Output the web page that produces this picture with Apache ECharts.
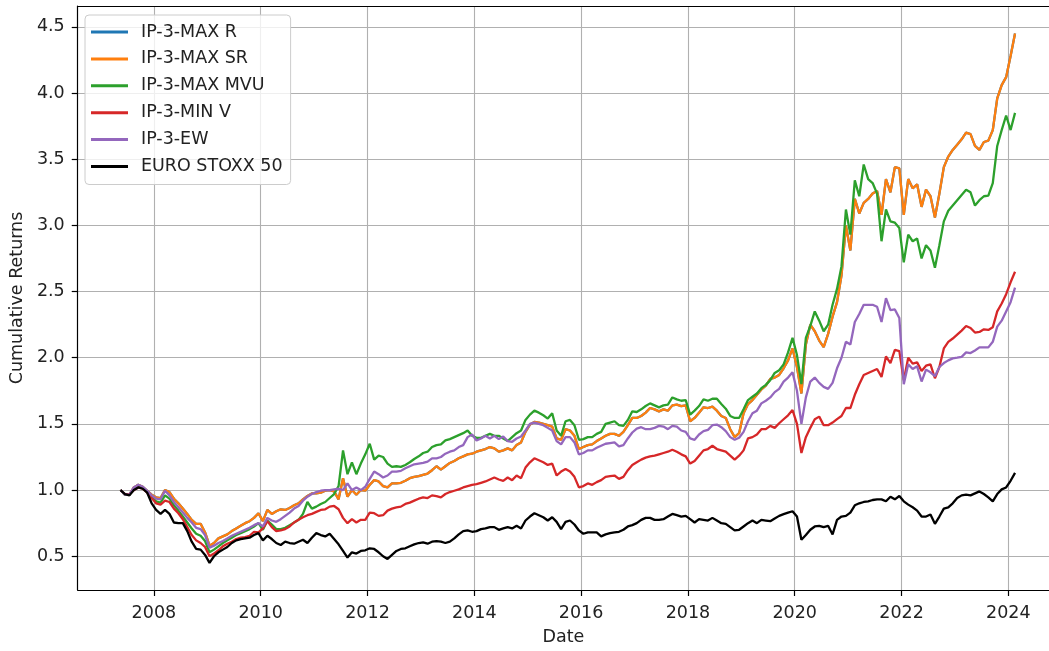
<!DOCTYPE html>
<html>
<head>
<meta charset="utf-8">
<script src="https://cdn.jsdelivr.net/npm/echarts@6/dist/echarts.min.js"></script>
<style>
  html, body { margin: 0; padding: 0; background: #ffffff; }
  #chart { width: 1049px; height: 651px; }
</style>
</head>
<body>
<div id="chart"></div>
<script>
// Monthly observations, first one in May 2007, last one in February 2024.
const startYear = 2007;
const startMonth = 5;

const seriesNames = ['IP-3-MAX R', 'IP-3-MAX SR', 'IP-3-MAX MVU', 'IP-3-MIN V', 'IP-3-EW', 'EURO STOXX 50'];

const maxSR = [
  1.0, 0.965, 0.965, 1.02, 1.04, 1.025, 0.995, 0.965, 0.945, 0.94,
  1.0, 0.985, 0.935, 0.90, 0.86, 0.82, 0.775, 0.745, 0.745, 0.68,
  0.58, 0.60, 0.635, 0.65, 0.665, 0.69, 0.71, 0.73, 0.75, 0.765,
  0.79, 0.825, 0.765, 0.85, 0.82, 0.84, 0.855, 0.85, 0.865, 0.885,
  0.90, 0.93, 0.955, 0.975, 0.975, 0.98, 0.995, 1.0, 0.99, 0.93,
  1.09, 0.95, 1.0, 0.965, 1.0, 0.995, 1.04, 1.075, 1.065, 1.03,
  1.02, 1.05, 1.05, 1.055, 1.07, 1.09, 1.10, 1.105, 1.115, 1.125,
  1.15,
  1.18, 1.155, 1.18, 1.205, 1.22, 1.24, 1.255, 1.27, 1.275,
  1.29, 1.30, 1.31, 1.325, 1.315, 1.29, 1.30, 1.315, 1.30, 1.34,
  1.36, 1.44, 1.495, 1.515, 1.51, 1.50, 1.49, 1.48, 1.39, 1.38,
  1.46, 1.45, 1.41, 1.31, 1.325, 1.34, 1.345, 1.37, 1.39, 1.41,
  1.425, 1.425, 1.41, 1.44, 1.49, 1.545, 1.545, 1.56, 1.585, 1.62,
  1.61, 1.595, 1.61, 1.60, 1.64, 1.645, 1.635, 1.64, 1.52, 1.545,
  1.585, 1.625, 1.62, 1.63, 1.60, 1.56, 1.545, 1.46, 1.40, 1.43,
  1.58, 1.65,
  1.68, 1.72, 1.76, 1.79, 1.84, 1.85, 1.87, 1.92,
  1.98, 2.07, 1.93, 1.73, 2.10, 2.25, 2.20, 2.13, 2.08, 2.18,
  2.31, 2.42, 2.62, 3.0, 2.81, 3.20, 3.09, 3.17, 3.20, 3.24,
  3.26, 3.08, 3.35, 3.25, 3.44, 3.43, 3.08, 3.35, 3.28, 3.31,
  3.14, 3.27, 3.22, 3.06, 3.24, 3.44, 3.52, 3.57, 3.61, 3.65,
  3.70, 3.69, 3.60, 3.57, 3.63, 3.64, 3.72, 3.96, 4.06, 4.12,
  4.28, 4.45
];

// IP-3-MAX R runs on the same path as IP-3-MAX SR (drawn underneath it).
const maxR = maxSR;

const maxMVU = [
  1.0, 0.965, 0.965, 1.01, 1.03, 1.02, 0.99, 0.95, 0.915, 0.905,
  0.96, 0.935, 0.885, 0.845, 0.80, 0.755, 0.71, 0.67, 0.655, 0.615,
  0.53, 0.55, 0.575, 0.60, 0.62, 0.64, 0.66, 0.675, 0.69, 0.705,
  0.725, 0.75, 0.70, 0.77, 0.74, 0.705, 0.705, 0.715, 0.735, 0.755,
  0.775, 0.82, 0.91, 0.86, 0.875, 0.895, 0.91, 0.94, 0.97, 1.03,
  1.30, 1.12, 1.21, 1.12, 1.20, 1.27, 1.35, 1.23, 1.26, 1.25,
  1.20, 1.175, 1.18, 1.175, 1.19, 1.21, 1.235, 1.255, 1.28, 1.29,
  1.325,
  1.34, 1.345, 1.375, 1.385, 1.40, 1.415, 1.43, 1.45, 1.41,
  1.395, 1.395, 1.41, 1.425, 1.41, 1.41, 1.39, 1.37, 1.40, 1.43,
  1.45, 1.53, 1.57, 1.60, 1.585, 1.565, 1.54, 1.58, 1.45, 1.41,
  1.52, 1.53, 1.49, 1.38, 1.385, 1.40, 1.40, 1.425, 1.44, 1.50,
  1.51, 1.52, 1.49, 1.485, 1.53, 1.595, 1.59, 1.61, 1.635, 1.655,
  1.64, 1.625, 1.64, 1.645, 1.70, 1.685, 1.675, 1.68, 1.57, 1.60,
  1.635, 1.685, 1.675, 1.69, 1.69, 1.65, 1.615, 1.56, 1.545, 1.545,
  1.61, 1.68,
  1.705, 1.73, 1.77, 1.795, 1.83, 1.885, 1.905, 1.95,
  2.04, 2.15, 2.02, 1.80, 2.15, 2.24, 2.35, 2.28, 2.20, 2.25,
  2.40, 2.52, 2.69, 3.12, 2.93, 3.34, 3.22, 3.46, 3.35, 3.32,
  3.24, 2.88, 3.12, 3.03, 3.02, 2.98, 2.72, 2.93, 2.88, 2.90,
  2.75, 2.85, 2.81, 2.68, 2.85, 3.03, 3.11, 3.15, 3.19, 3.23,
  3.27, 3.25, 3.15, 3.19, 3.22, 3.225, 3.32, 3.60, 3.72, 3.83,
  3.72, 3.85
];

const minV = [
  1.0, 0.97, 0.97, 1.0, 1.02, 1.01, 0.98, 0.94, 0.90, 0.89,
  0.92, 0.91, 0.86, 0.825, 0.78, 0.72, 0.66, 0.62, 0.60, 0.57,
  0.50, 0.52, 0.545, 0.575, 0.595, 0.61, 0.63, 0.64, 0.645, 0.655,
  0.685, 0.68, 0.71, 0.765, 0.72, 0.69, 0.695, 0.705, 0.725, 0.755,
  0.775, 0.795, 0.81, 0.82, 0.835, 0.85, 0.855, 0.875, 0.88, 0.855,
  0.79, 0.75, 0.78, 0.755, 0.775, 0.775, 0.83, 0.825, 0.805, 0.81,
  0.845, 0.86, 0.87, 0.875, 0.895, 0.905, 0.92, 0.935, 0.945, 0.94,
  0.96,
  0.955, 0.945, 0.97, 0.985, 0.995, 1.005, 1.02, 1.03, 1.04,
  1.045, 1.055, 1.065, 1.08, 1.095, 1.08, 1.07, 1.095, 1.075, 1.11,
  1.09, 1.17, 1.21, 1.24, 1.225, 1.21, 1.19, 1.20, 1.11, 1.14,
  1.16, 1.14, 1.10, 1.02, 1.03, 1.05, 1.04, 1.06, 1.075, 1.10,
  1.105, 1.11, 1.085, 1.10, 1.15, 1.19, 1.21, 1.23, 1.245, 1.255,
  1.26, 1.27, 1.28, 1.29, 1.305, 1.29, 1.27, 1.255, 1.20, 1.22,
  1.26, 1.30, 1.31, 1.335, 1.31, 1.30, 1.29, 1.26, 1.23, 1.26,
  1.30, 1.39,
  1.40, 1.42, 1.46, 1.46, 1.485, 1.47, 1.505, 1.535,
  1.565, 1.605, 1.50, 1.28, 1.40, 1.47, 1.535, 1.555, 1.49, 1.49,
  1.51, 1.536, 1.56, 1.62, 1.62, 1.72, 1.80, 1.87, 1.885, 1.90,
  1.915, 1.855, 2.01, 1.96, 2.06, 2.05, 1.83, 2.00, 1.955, 1.965,
  1.90, 1.94, 1.95, 1.845, 1.93, 2.07, 2.12, 2.145, 2.175, 2.205,
  2.24, 2.225, 2.19, 2.195, 2.215, 2.21, 2.23, 2.35, 2.41, 2.48,
  2.57, 2.65
];

const equalWeight = [
  1.0, 0.965, 0.965, 1.02, 1.04, 1.025, 0.995, 0.96, 0.935, 0.93,
  0.995, 0.96, 0.91, 0.87, 0.83, 0.79, 0.755, 0.715, 0.705, 0.66,
  0.565, 0.58, 0.60, 0.615, 0.635, 0.655, 0.67, 0.685, 0.70, 0.715,
  0.735, 0.75, 0.725, 0.79, 0.77, 0.76, 0.78, 0.805, 0.83, 0.86,
  0.88, 0.92, 0.95, 0.97, 0.985, 0.995, 1.0, 1.0, 1.005, 1.01,
  1.0, 1.05, 1.0, 1.02, 1.0, 1.025, 1.085, 1.14, 1.12, 1.095,
  1.11, 1.14, 1.14, 1.145, 1.165, 1.18, 1.195, 1.20, 1.205, 1.215,
  1.24,
  1.24, 1.25, 1.275, 1.29, 1.30, 1.325, 1.34, 1.40, 1.42,
  1.375, 1.39, 1.41, 1.39, 1.41, 1.385, 1.405, 1.37, 1.365, 1.39,
  1.405, 1.45, 1.50, 1.51, 1.50, 1.49, 1.47, 1.45, 1.37, 1.345,
  1.40, 1.40, 1.36, 1.27, 1.28, 1.30, 1.30, 1.32, 1.335, 1.35,
  1.355, 1.36, 1.33, 1.34, 1.39, 1.435, 1.465, 1.475, 1.46, 1.46,
  1.47, 1.485, 1.48, 1.46, 1.485, 1.48, 1.45, 1.44, 1.39, 1.38,
  1.42, 1.445, 1.455, 1.49, 1.495, 1.475, 1.445, 1.40, 1.38, 1.395,
  1.44, 1.52,
  1.58, 1.60, 1.655, 1.675, 1.70, 1.74, 1.765, 1.82,
  1.85, 1.89, 1.75, 1.50, 1.70, 1.82, 1.85, 1.81, 1.78, 1.765,
  1.81, 1.92, 2.0, 2.12, 2.10, 2.27, 2.33, 2.40, 2.40, 2.40,
  2.385, 2.27, 2.45, 2.36, 2.365, 2.30, 1.80, 1.95, 1.915, 1.935,
  1.82, 1.91, 1.89, 1.86, 1.93, 1.96, 1.98, 1.995, 2.0, 2.006,
  2.04, 2.035, 2.055, 2.078, 2.078, 2.078, 2.12, 2.235, 2.28, 2.35,
  2.42, 2.53
];

const euroStoxx50 = [
  1.0, 0.97, 0.96, 1.0, 1.02, 1.01, 0.98, 0.90, 0.85, 0.82,
  0.85, 0.82, 0.755, 0.75, 0.75, 0.69, 0.61, 0.555, 0.55, 0.51,
  0.45, 0.50, 0.53, 0.55, 0.57, 0.60, 0.62, 0.63, 0.635, 0.64,
  0.66, 0.675, 0.62, 0.655, 0.63, 0.60, 0.585, 0.61, 0.60, 0.595,
  0.61, 0.625, 0.60, 0.64, 0.675, 0.66, 0.65, 0.67, 0.63, 0.59,
  0.54, 0.49, 0.53, 0.52, 0.54, 0.545, 0.56, 0.555, 0.53, 0.50,
  0.48, 0.51, 0.54, 0.555, 0.56, 0.575, 0.59, 0.60, 0.605, 0.595,
  0.61,
  0.615, 0.61, 0.60, 0.61, 0.635, 0.665, 0.69, 0.695, 0.685,
  0.69, 0.705, 0.71, 0.72, 0.72, 0.70, 0.71, 0.72, 0.71, 0.73,
  0.71, 0.77, 0.80, 0.825, 0.81, 0.795, 0.77, 0.795, 0.76, 0.705,
  0.76, 0.77, 0.74, 0.695, 0.67, 0.68, 0.68, 0.68, 0.65, 0.665,
  0.675, 0.68, 0.685, 0.70, 0.725, 0.735, 0.75, 0.775, 0.79, 0.79,
  0.775, 0.775, 0.78, 0.80, 0.82, 0.81, 0.80, 0.805, 0.78, 0.755,
  0.78, 0.775, 0.77, 0.79, 0.77, 0.75, 0.745, 0.72, 0.695, 0.70,
  0.725, 0.75,
  0.77, 0.75, 0.775, 0.77, 0.765, 0.785, 0.805, 0.818,
  0.83, 0.84, 0.80, 0.625, 0.66, 0.70, 0.725, 0.73, 0.72, 0.73,
  0.665, 0.775, 0.80, 0.805, 0.83, 0.885, 0.90, 0.91, 0.915, 0.925,
  0.93, 0.93, 0.915, 0.95, 0.93, 0.955, 0.915, 0.89, 0.87, 0.845,
  0.80, 0.80, 0.815, 0.745, 0.80, 0.86, 0.87, 0.90, 0.94, 0.96,
  0.965, 0.96, 0.975, 0.99, 0.97, 0.945, 0.915, 0.97, 1.005, 1.02,
  1.07, 1.13
];

const xTicks = [2008, 2010, 2012, 2014, 2016, 2018, 2020, 2022, 2024];
const yTicks = [0.5, 1.0, 1.5, 2.0, 2.5, 3.0, 3.5, 4.0, 4.5];

const seriesValues = [maxR, maxSR, maxMVU, minV, equalWeight, euroStoxx50];
const seriesColors = ['#1f77b4', '#ff7f0e', '#2ca02c', '#d62728', '#9467bd', '#000000'];

// Each observation sits in the middle of its month on a decimal-year axis.
function monthPosition(i) {
  const m = startMonth - 1 + i;
  return startYear + Math.floor(m / 12) + ((m % 12) + 0.5) / 12;
}

const FONT = 'DejaVu Sans';
const TEXT = '#222222';
const FONT_SIZE = 17.5;
const X_MIN = 2006.574, X_MAX = 2024.761;
const SPINE = { show: true, lineStyle: { color: '#000000', width: 1.2 } };

const chart = echarts.init(document.getElementById('chart'), null, { renderer: 'canvas' });

chart.setOption({
  animation: false,
  backgroundColor: '#ffffff',
  textStyle: { fontFamily: FONT },
  grid: { left: 76, right: 0, top: 6, bottom: 57 },
  legend: {
    show: true,
    orient: 'vertical',
    left: 85, top: 15,
    padding: [8, 8, 9, 6],
    itemGap: 8.9,
    itemWidth: 37, itemHeight: 3,
    icon: 'rect',
    backgroundColor: 'rgba(255,255,255,0.8)',
    borderColor: '#cccccc', borderWidth: 1, borderRadius: 4,
    textStyle: { fontFamily: FONT, fontSize: FONT_SIZE, color: TEXT, padding: [0, 0, 0, 8] },
    data: seriesNames
  },
  xAxis: [{
    type: 'value',
    min: X_MIN, max: X_MAX,
    name: 'Date',
    nameLocation: 'middle',
    nameGap: 38,
    nameTextStyle: { fontFamily: FONT, fontSize: FONT_SIZE, color: TEXT },
    axisLine: SPINE,
    axisTick: { show: true, customValues: xTicks, length: 6, lineStyle: { color: '#000', width: 1.2 } },
    axisLabel: {
      customValues: xTicks, margin: 14,
      fontFamily: FONT, fontSize: FONT_SIZE, color: TEXT,
      formatter: v => String(Math.round(v))
    },
    splitLine: { show: true, lineStyle: { color: '#b0b0b0', width: 1.1 } }
  }, {
    // top spine of the plot frame
    type: 'value',
    position: 'top',
    min: X_MIN, max: X_MAX,
    axisLine: SPINE,
    axisTick: { show: false },
    axisLabel: { show: false },
    splitLine: { show: false }
  }],
  yAxis: {
    type: 'value',
    min: 0.245, max: 4.6575,
    name: 'Cumulative Returns',
    nameLocation: 'middle',
    nameGap: 49,
    nameTextStyle: { fontFamily: FONT, fontSize: FONT_SIZE, color: TEXT },
    axisLine: SPINE,
    axisTick: { show: true, customValues: yTicks, length: 6, lineStyle: { color: '#000', width: 1.2 } },
    axisLabel: {
      customValues: yTicks, margin: 13,
      fontFamily: FONT, fontSize: FONT_SIZE, color: TEXT,
      formatter: v => v.toFixed(1)
    },
    splitLine: { show: true, lineStyle: { color: '#b0b0b0', width: 1.1 } }
  },
  series: seriesNames.map((name, k) => ({
    name: name,
    type: 'line',
    xAxisIndex: 0,
    data: seriesValues[k].map((v, i) => [monthPosition(i), v]),
    showSymbol: false,
    symbol: 'none',
    color: seriesColors[k],
    lineStyle: { color: seriesColors[k], width: 2.3 },
    emphasis: { disabled: true },
    z: 2 + k
  }))
});
</script>
</body>
</html>
